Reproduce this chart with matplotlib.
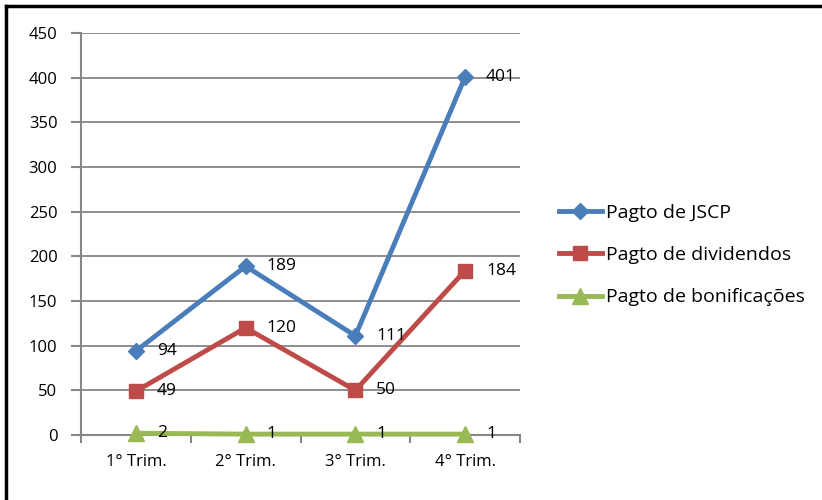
import matplotlib.pyplot as plt
import numpy as np

plt.rcParams['font.family'] = ['Open Sans', 'DejaVu Sans']

trimestres = ['1° Trim.', '2° Trim.', '3° Trim.', '4° Trim.']
jscp = [94, 189, 111, 401]
dividendos = [49, 120, 50, 184]
bonificacoes = [2, 1, 1, 1]

series = [
    ('Pagto de JSCP', jscp, '#4a7ebb', 'D', 8),
    ('Pagto de dividendos', dividendos, '#be4b48', 's', 10),
    ('Pagto de bonificações', bonificacoes, '#98b954', '^', 11),
]

fig = plt.figure(figsize=(8.22, 5.0), dpi=100)
ax = fig.add_axes([81 / 822, 65 / 500, 439 / 822, 402 / 500])

x = np.arange(len(trimestres))
for nome, vals, cor, mk, ms in series:
    ax.plot(x, vals, color=cor, lw=3.5, marker=mk, markersize=ms,
            markerfacecolor=cor, markeredgecolor=cor, label=nome,
            solid_joinstyle='miter', clip_on=False, zorder=3)
    for xi, v in zip(x, vals):
        ax.annotate(str(v), (xi, v), xytext=(15, 0), textcoords='offset points',
                    ha='left', va='center', fontsize=12.5, color='black', zorder=4)

ax.set_xlim(-0.5, 3.5)
ax.set_ylim(0, 450)
ax.set_yticks(np.arange(0, 451, 50))
ax.set_xticks(x)
ax.set_xticklabels(trimestres, fontsize=12)
ax.set_xticks(np.arange(-0.5, 3.6, 1), minor=True)
ax.tick_params(axis='x', which='major', length=0, pad=14)
ax.tick_params(axis='x', which='minor', length=6, color='#868686', width=1.5)
ax.tick_params(axis='y', length=7, color='#868686', width=1.5, labelsize=12, pad=10)

ax.grid(axis='y', color='#868686', lw=1.3)
ax.set_axisbelow(True)
for s in ['top', 'right']:
    ax.spines[s].set_visible(False)
for s in ['left', 'bottom']:
    ax.spines[s].set_color('#868686')
    ax.spines[s].set_linewidth(1.5)

fig.legend(loc='center left', bbox_to_anchor=(551 / 822, 1 - 255 / 500),
           frameon=False, fontsize=14, handlelength=2.2, labelspacing=1.25,
           handletextpad=0.25, borderaxespad=0)

# moldura: linha superior e esquerda
fig.add_artist(plt.Line2D([6 / 822, 6 / 822], [0, 1 - 6 / 500], color='black', lw=2.5))
fig.add_artist(plt.Line2D([6 / 822, 1], [1 - 6 / 500, 1 - 6 / 500], color='black', lw=2.5))

fig.savefig('out.png', dpi=100)
